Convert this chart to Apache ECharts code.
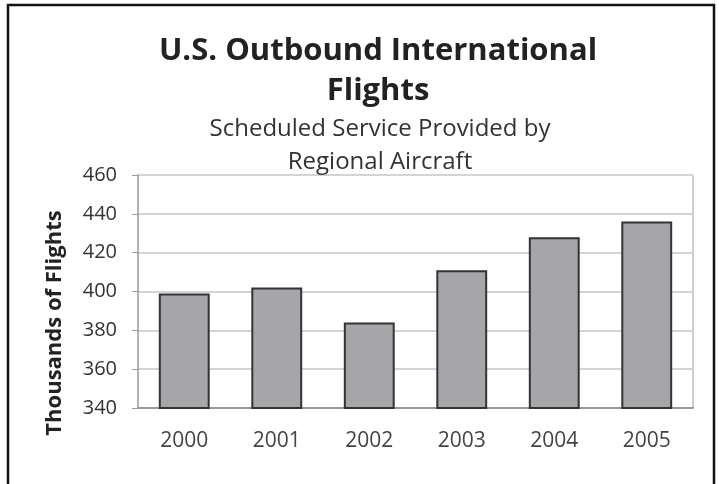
<!DOCTYPE html>
<html>
<head>
<meta charset="utf-8">
<script src="https://cdn.jsdelivr.net/npm/echarts@6/dist/echarts.min.js"></script>
<style>html,body{margin:0;padding:0;background:#fff;}#c{width:719px;height:484px;}</style>
</head>
<body>
<div id="c"></div>
<script>
const categories = ['2000', '2001', '2002', '2003', '2004', '2005'];
const flights = [399, 402, 384, 411, 428, 436];
const yTicks = [340, 360, 380, 400, 420, 440, 460];

const chart = echarts.init(document.getElementById('c'));
const font = '"Open Sans", "DejaVu Sans", sans-serif';
chart.setOption({
  animation: false,
  backgroundColor: '#fff',
  title: [
    { text: 'U.S. Outbound International\nFlights', left: 373, top: 26, textAlign: 'center',
      textStyle: { fontFamily: font, fontWeight: 'bold', fontSize: 31, color: '#222', lineHeight: 40 } },
    { text: 'Scheduled Service Provided by\nRegional Aircraft', left: 375, top: 108, textAlign: 'center',
      textStyle: { fontFamily: font, fontWeight: 'normal', fontSize: 24, color: '#333', lineHeight: 33 } }
  ],
  grid: { left: 138, right: 26, top: 175, bottom: 76, containLabel: false },
  xAxis: {
    type: 'category', data: categories,
    axisLine: { lineStyle: { color: '#999', width: 2 } },
    axisTick: { show: false },
    axisLabel: { fontFamily: font, fontSize: 21, color: '#444', margin: 23 }
  },
  yAxis: {
    type: 'value', min: yTicks[0], max: yTicks[yTicks.length - 1], interval: 20,
    name: 'Thousands of Flights', nameLocation: 'middle', nameGap: 72, nameRotate: 90,
    nameTextStyle: { fontFamily: font, fontWeight: 'bold', fontSize: 22, color: '#222', padding: [0, 63, 0, 0] },
    axisLine: { show: true, lineStyle: { color: '#999', width: 1.5 } },
    axisTick: { show: true, length: 6, lineStyle: { color: '#999' } },
    axisLabel: { fontFamily: font, fontSize: 20, color: '#333', margin: 21 },
    splitLine: { lineStyle: { color: '#d4d4d4', width: 2 } }
  },
  series: [{
    type: 'bar', data: flights, barWidth: '55%',
    itemStyle: { color: '#a6a6aa', borderColor: '#333', borderWidth: 2 }
  }],
  graphic: [
    { type: 'line', shape: { x1: 693, y1: 175, x2: 693, y2: 408 }, style: { stroke: '#ccc', lineWidth: 2 } },
    { type: 'rect', shape: { x: 8, y: 5, width: 706, height: 520 }, style: { fill: 'none', stroke: '#111', lineWidth: 2.5 } }
  ]
});
</script>
</body>
</html>
